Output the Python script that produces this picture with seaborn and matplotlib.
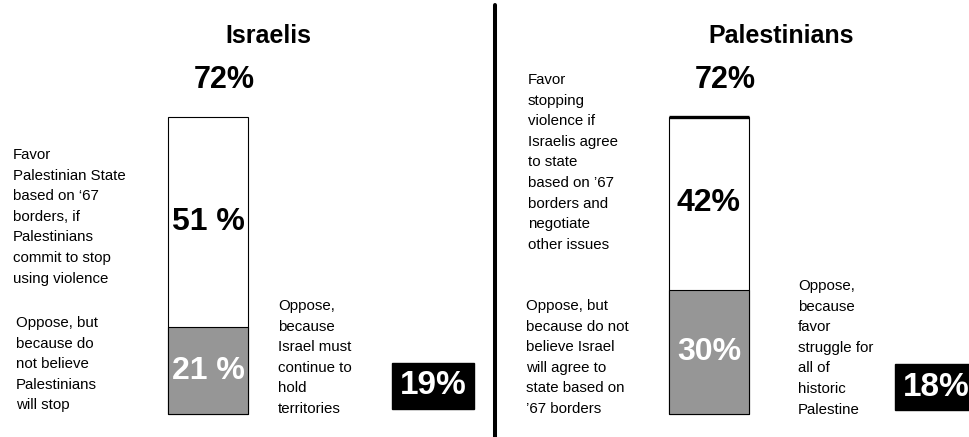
import matplotlib
matplotlib.use("Agg")
import matplotlib.pyplot as plt
from matplotlib.lines import Line2D
import seaborn as sns
import pandas as pd

# ---- data ----
groups = ["Israelis", "Palestinians"]
favor_vals = [51, 42]          # white segment
oppose_but_vals = [21, 30]     # gray segment
oppose_because_vals = [19, 18] # black box
totals = [f + o for f, o in zip(favor_vals, oppose_but_vals)]  # 72, 72
favor_labels = ["51 %", "42%"]
oppose_but_labels = ["21 %", "30%"]
total_labels = ["72%", "72%"]
oppose_because_labels = ["19%", "18%"]
favor_texts = [
    "Favor\nPalestinian State\nbased on \u201867\nborders, if\nPalestinians\ncommit to stop\nusing violence",
    "Favor\nstopping\nviolence if\nIsraelis agree\nto state\nbased on \u201967\nborders and\nnegotiate\nother issues",
]
oppose_but_texts = [
    "Oppose, but\nbecause do\nnot believe\nPalestinians\nwill stop",
    "Oppose, but\nbecause do not\nbelieve Israel\nwill agree to\nstate based on\n\u201967 borders",
]
oppose_because_texts = [
    "Oppose,\nbecause\nIsrael must\ncontinue to\nhold\nterritories",
    "Oppose,\nbecause\nfavor\nstruggle for\nall of\nhistoric\nPalestine",
]

df = pd.DataFrame({"group": groups, "total": totals, "oppose_but": oppose_but_vals})

sns.set_style("white")
plt.rcParams["font.family"] = ["Liberation Sans", "DejaVu Sans"]
plt.rcParams["text.color"] = "black"

W, H = 970, 437
fig = plt.figure(figsize=(W / 100, H / 100), dpi=100)
ax = fig.add_axes([0, 0, 1, 1])

bar_w = 0.16
GRAY = "#969696"
sns.barplot(data=df, x="group", y="total", color="white", edgecolor="black",
            linewidth=0.8, width=bar_w, saturation=1, errorbar=None, ax=ax)
sns.barplot(data=df, x="group", y="oppose_but", color=GRAY, edgecolor="black",
            linewidth=0.8, width=bar_w, saturation=1, errorbar=None, ax=ax)

# pixel mapping for the axes: bar centers at 208px and 709px, 0% at y=414px, 4.13px per %
px_per_x = 501.0
px_per_pct = 4.13
ax.set_xlim(-208 / px_per_x, (W - 208) / px_per_x)
ax.set_ylim(-(H - 414) / px_per_pct, 414 / px_per_pct)
ax.axis("off")

# thick top line on the Palestinian bar
ax.plot([1 - bar_w / 2, 1 + bar_w / 2], [totals[1], totals[1]], color="black",
        lw=2.4, solid_capstyle="butt")

def fx(px):
    return px / W

def fy(py):
    return 1 - py / H

# titles
fig.text(fx(268), fy(36), groups[0], ha="center", va="center", fontsize=18,
         fontweight="bold", color="black")
fig.text(fx(781), fy(36), groups[1], ha="center", va="center", fontsize=18,
         fontweight="bold", color="black")

# value labels on bars
for i in range(len(groups)):
    ax.text(i, oppose_but_vals[i] + favor_vals[i] / 2, favor_labels[i], ha="center",
            va="center", fontsize=23, fontweight="bold", color="black")
    ax.text(i, oppose_but_vals[i] / 2, oppose_but_labels[i], ha="center",
            va="center", fontsize=23, fontweight="bold", color="white")
    ax.annotate(total_labels[i], xy=(i, totals[i]), xytext=(16, 22),
                textcoords="offset pixels", ha="center", va="bottom",
                fontsize=22, fontweight="bold", color="black")

# category text blocks
txt_kw = dict(ha="left", va="top", fontsize=10.8, linespacing=1.6, color="black")
fig.text(fx(13), fy(148), favor_texts[0], **txt_kw)
fig.text(fx(16), fy(316), oppose_but_texts[0], **txt_kw)
fig.text(fx(278), fy(299), oppose_because_texts[0], **txt_kw)
fig.text(fx(528), fy(73), favor_texts[1], **txt_kw)
fig.text(fx(526), fy(299), oppose_but_texts[1], **txt_kw)
fig.text(fx(798), fy(279), oppose_because_texts[1], **txt_kw)

# black boxes with the "oppose, because" values
box_kw = dict(ha="center", va="center", fontsize=24, fontweight="bold", color="white",
              bbox=dict(boxstyle="square,pad=0.22", facecolor="black", edgecolor="black"))
fig.text(fx(433), fy(386), oppose_because_labels[0], **box_kw)
fig.text(fx(936), fy(387), oppose_because_labels[1], **box_kw)

# divider between panels
fig.add_artist(Line2D([fx(495), fx(495)], [fy(5), fy(437)], color="black", lw=2.9,
                      transform=fig.transFigure))

fig.savefig("out.png", dpi=100)
